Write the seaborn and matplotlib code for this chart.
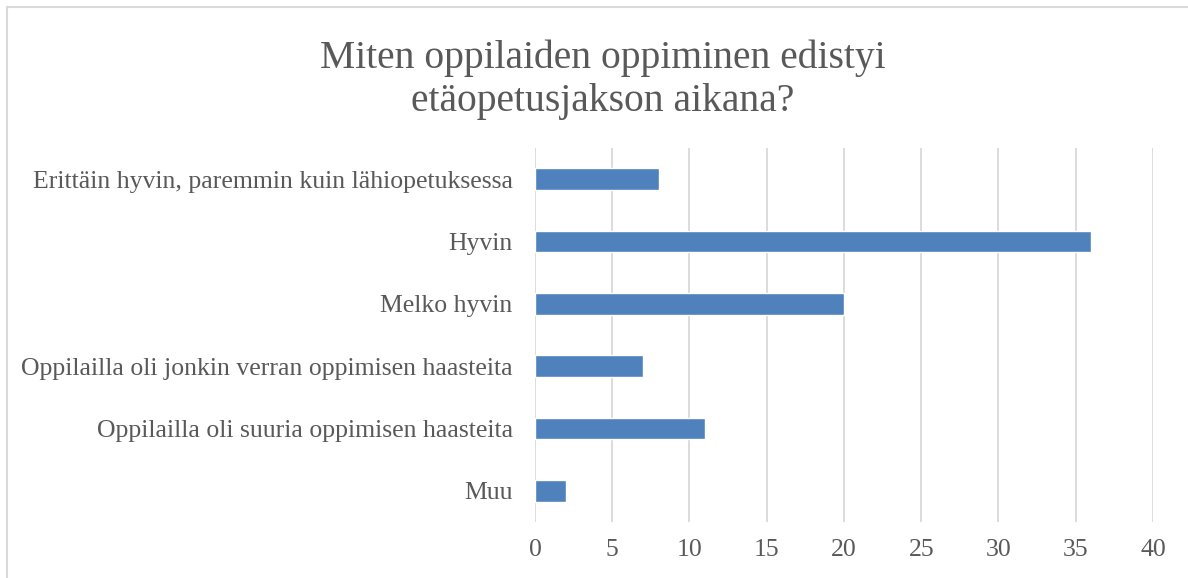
import matplotlib
matplotlib.use('Agg')
import matplotlib.pyplot as plt
import matplotlib.patches as patches
import pandas as pd
import seaborn as sns

categories = [
    'Erittäin hyvin, paremmin kuin lähiopetuksessa',
    'Hyvin',
    'Melko hyvin',
    'Oppilailla oli jonkin verran oppimisen haasteita',
    'Oppilailla oli suuria oppimisen haasteita',
    'Muu',
]
counts = [8, 36, 20, 7, 11, 2]
x_ticks = [0, 5, 10, 15, 20, 25, 30, 35, 40]

BAR_COLOR = '#4F81BD'
TEXT_COLOR = '#595959'
GRID_COLOR = '#D9D9D9'

sns.set_theme(style='white')
plt.rcParams['font.family'] = ['Liberation Serif', 'DejaVu Serif']

df = pd.DataFrame({'category': categories, 'count': counts})

fig = plt.figure(figsize=(11.88, 5.78), dpi=100)
ax = fig.add_axes([0.4503, 0.0969, 0.5202, 0.6471])

sns.barplot(data=df, x='count', y='category', color=BAR_COLOR, width=0.35,
            saturation=1, ax=ax, zorder=3)

ax.set_xlim(0, 40)
ax.set_xticks(x_ticks)
ax.set_xticklabels([str(t) for t in x_ticks])
ax.xaxis.grid(True, color=GRID_COLOR, linewidth=1.3, zorder=0)
ax.set_axisbelow(True)
for s in ax.spines.values():
    s.set_visible(False)
ax.tick_params(axis='both', length=0, labelsize=18.5, colors=TEXT_COLOR)
ax.tick_params(axis='x', pad=12)
ax.tick_params(axis='y', pad=16)
ax.set_xlabel('')
ax.set_ylabel('')

fig.text(0.507, 0.862, 'Miten oppilaiden oppiminen edistyi\netäopetusjakson aikana?',
         ha='center', va='center', fontsize=28.5, color=TEXT_COLOR, linespacing=1.2)

frame = patches.Rectangle((0.006, -0.1), 1.2, 1.088, transform=fig.transFigure,
                          fill=False, edgecolor='#D9D9D9', linewidth=1.5)
fig.patches.append(frame)

fig.savefig('out.png', dpi=100)
